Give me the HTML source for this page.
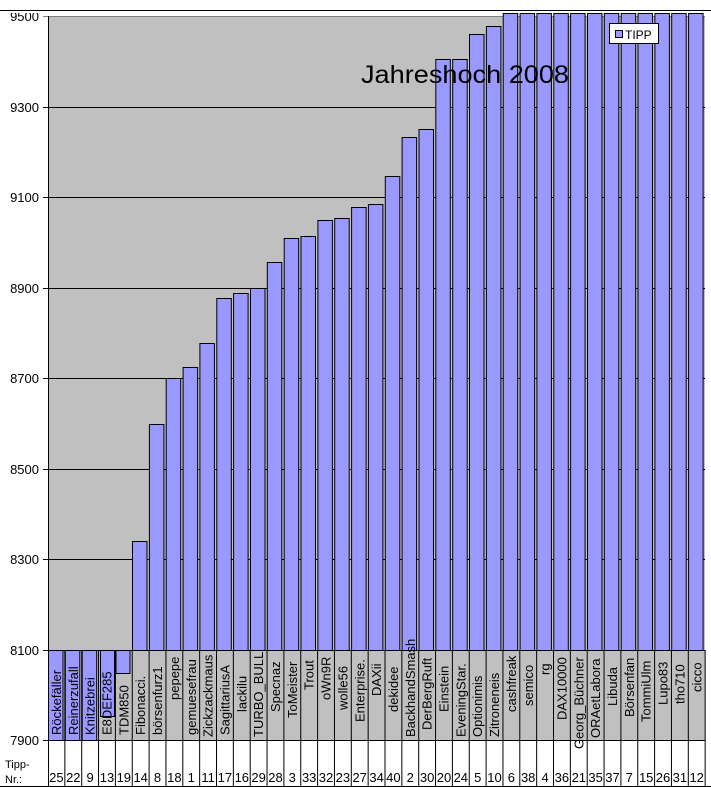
<!DOCTYPE html>
<html><head><meta charset="utf-8"><style>
html,body{margin:0;padding:0;background:#fff;}
svg{display:block;font-family:"Liberation Sans",Arial,sans-serif;}
.l{font-size:13px;fill:#000;}
.n{font-size:13px;fill:#000;text-anchor:middle;}
.y{font-size:13px;fill:#000;text-anchor:end;}
rect.b{fill:#9999ff;stroke:#000;stroke-width:1;}
</style></head><body>
<svg width="711" height="787" viewBox="0 0 711 787" xmlns="http://www.w3.org/2000/svg">
<rect x="0" y="0" width="711" height="787" fill="#fff"/>
<rect x="48" y="16" width="657" height="724" fill="#c0c0c0"/>
<g stroke="#000" stroke-width="1">
<line x1="43" y1="16.5" x2="705" y2="16.5" stroke="#808080"/>
<line x1="43" y1="107.5" x2="705" y2="107.5"/>
<line x1="43" y1="197.5" x2="705" y2="197.5"/>
<line x1="43" y1="288.5" x2="705" y2="288.5"/>
<line x1="43" y1="378.5" x2="705" y2="378.5"/>
<line x1="43" y1="469.5" x2="705" y2="469.5"/>
<line x1="43" y1="559.5" x2="705" y2="559.5"/>
<line x1="43" y1="650.5" x2="705" y2="650.5"/>
<line x1="43" y1="740.5" x2="705" y2="740.5"/>
<line x1="48.5" y1="16" x2="48.5" y2="787"/>
</g>
<g class="y">
<text class="y" x="39" y="21">9500</text>
<text class="y" x="39" y="112">9300</text>
<text class="y" x="39" y="202">9100</text>
<text class="y" x="39" y="293">8900</text>
<text class="y" x="39" y="383">8700</text>
<text class="y" x="39" y="474">8500</text>
<text class="y" x="39" y="564">8300</text>
<text class="y" x="39" y="655">8100</text>
<text class="y" x="39" y="745">7900</text>
</g>
<g>
<rect class="b" x="48.5" y="650.5" width="14.5" height="90"/>
<rect class="b" x="65.3" y="650.5" width="14.5" height="90"/>
<rect class="b" x="82.2" y="650.5" width="14.5" height="90"/>
<rect class="b" x="100.5" y="650.5" width="14" height="66"/>
<rect class="b" x="116" y="650.5" width="14" height="23"/>
<rect class="b" x="132.5" y="541.5" width="14.5" height="109"/>
<rect class="b" x="149.4" y="424.5" width="14.5" height="226"/>
<rect class="b" x="166.2" y="378.5" width="14.5" height="272"/>
<rect class="b" x="183.1" y="367.5" width="14.5" height="283"/>
<rect class="b" x="199.9" y="343.5" width="14.5" height="307"/>
<rect class="b" x="216.8" y="298.5" width="14.5" height="352"/>
<rect class="b" x="233.6" y="293.5" width="14.5" height="357"/>
<rect class="b" x="250.5" y="288.5" width="14.5" height="362"/>
<rect class="b" x="267.3" y="262.5" width="14.5" height="388"/>
<rect class="b" x="284.2" y="238.5" width="14.5" height="412"/>
<rect class="b" x="301" y="236.5" width="14.5" height="414"/>
<rect class="b" x="317.9" y="220.5" width="14.5" height="430"/>
<rect class="b" x="334.7" y="218.5" width="14.5" height="432"/>
<rect class="b" x="351.6" y="207.5" width="14.5" height="443"/>
<rect class="b" x="368.4" y="204.5" width="14.5" height="446"/>
<rect class="b" x="385.3" y="176.5" width="14.5" height="474"/>
<rect class="b" x="402.1" y="137.5" width="14.5" height="513"/>
<rect class="b" x="419" y="129.5" width="14.5" height="521"/>
<rect class="b" x="435.8" y="59.5" width="14.5" height="591"/>
<rect class="b" x="452.7" y="59.5" width="14.5" height="591"/>
<rect class="b" x="469.5" y="34.5" width="14.5" height="616"/>
<rect class="b" x="486.4" y="26.5" width="14.5" height="624"/>
<rect class="b" x="503.2" y="13.5" width="14.5" height="637"/>
<rect class="b" x="520.1" y="13.5" width="14.5" height="637"/>
<rect class="b" x="536.9" y="13.5" width="14.5" height="637"/>
<rect class="b" x="553.8" y="13.5" width="14.5" height="637"/>
<rect class="b" x="570.6" y="13.5" width="14.5" height="637"/>
<rect class="b" x="587.5" y="13.5" width="14.5" height="637"/>
<rect class="b" x="604.3" y="13.5" width="14.5" height="637"/>
<rect class="b" x="621.2" y="13.5" width="14.5" height="637"/>
<rect class="b" x="638" y="13.5" width="14.5" height="637"/>
<rect class="b" x="654.9" y="13.5" width="14.5" height="637"/>
<rect class="b" x="671.7" y="13.5" width="14.5" height="637"/>
<rect class="b" x="688.6" y="13.5" width="14.5" height="637"/>
</g>
<rect x="0" y="0" width="711" height="13" fill="#fff"/>
<line x1="0" y1="10.5" x2="711" y2="10.5" stroke="#000"/>
<rect x="706" y="11" width="5" height="639" fill="#fff"/>
<rect x="49" y="741" width="656" height="46" fill="#fff"/>
<g stroke="#000" stroke-width="1">
<line x1="64.85" y1="650" x2="64.85" y2="787"/>
<line x1="81.7" y1="650" x2="81.7" y2="787"/>
<line x1="98.55" y1="650" x2="98.55" y2="787"/>
<line x1="115.4" y1="650" x2="115.4" y2="787"/>
<line x1="132.25" y1="650" x2="132.25" y2="787"/>
<line x1="149.1" y1="650" x2="149.1" y2="787"/>
<line x1="165.95" y1="650" x2="165.95" y2="787"/>
<line x1="182.8" y1="650" x2="182.8" y2="787"/>
<line x1="199.65" y1="650" x2="199.65" y2="787"/>
<line x1="216.5" y1="650" x2="216.5" y2="787"/>
<line x1="233.35" y1="650" x2="233.35" y2="787"/>
<line x1="250.2" y1="650" x2="250.2" y2="787"/>
<line x1="267.05" y1="650" x2="267.05" y2="787"/>
<line x1="283.9" y1="650" x2="283.9" y2="787"/>
<line x1="300.75" y1="650" x2="300.75" y2="787"/>
<line x1="317.6" y1="650" x2="317.6" y2="787"/>
<line x1="334.45" y1="650" x2="334.45" y2="787"/>
<line x1="351.3" y1="650" x2="351.3" y2="787"/>
<line x1="368.15" y1="650" x2="368.15" y2="787"/>
<line x1="385" y1="650" x2="385" y2="787"/>
<line x1="401.85" y1="650" x2="401.85" y2="787"/>
<line x1="418.7" y1="650" x2="418.7" y2="787"/>
<line x1="435.55" y1="650" x2="435.55" y2="787"/>
<line x1="452.4" y1="650" x2="452.4" y2="787"/>
<line x1="469.25" y1="650" x2="469.25" y2="787"/>
<line x1="486.1" y1="650" x2="486.1" y2="787"/>
<line x1="502.95" y1="650" x2="502.95" y2="787"/>
<line x1="519.8" y1="650" x2="519.8" y2="787"/>
<line x1="536.65" y1="650" x2="536.65" y2="787"/>
<line x1="553.5" y1="650" x2="553.5" y2="787"/>
<line x1="570.35" y1="650" x2="570.35" y2="787"/>
<line x1="587.2" y1="650" x2="587.2" y2="787"/>
<line x1="604.05" y1="650" x2="604.05" y2="787"/>
<line x1="620.9" y1="650" x2="620.9" y2="787"/>
<line x1="637.75" y1="650" x2="637.75" y2="787"/>
<line x1="654.6" y1="650" x2="654.6" y2="787"/>
<line x1="671.45" y1="650" x2="671.45" y2="787"/>
<line x1="688.3" y1="650" x2="688.3" y2="787"/>
<line x1="705.15" y1="650" x2="705.15" y2="787"/>
<line x1="0" y1="786.5" x2="711" y2="786.5"/>
</g>
<g class="l">
<text class="l" transform="translate(61,735) rotate(-90)">Röckefäller</text>
<text class="l" transform="translate(77.8,735) rotate(-90)">Reinerzufall</text>
<text class="l" transform="translate(94.7,735) rotate(-90)">Knitzebrei</text>
<text class="l" transform="translate(111.5,735) rotate(-90)">E8DEF285</text>
<text class="l" transform="translate(128.4,735) rotate(-90)">TDM850</text>
<text class="l" transform="translate(145.2,735) rotate(-90)">Fibonacci.</text>
<text class="l" transform="translate(162.1,735) rotate(-90)">börsenfurz1</text>
<text class="l" transform="translate(178.9,700) rotate(-90)">pepepe</text>
<text class="l" transform="translate(195.8,735) rotate(-90)">gemuesefrau</text>
<text class="l" transform="translate(212.6,737) rotate(-90)">Zickzackmaus</text>
<text class="l" transform="translate(229.5,735) rotate(-90)">SagittariusA</text>
<text class="l" transform="translate(246.3,712) rotate(-90)">lackilu</text>
<text class="l" transform="translate(263.2,737) rotate(-90)">TURBO_BULL</text>
<text class="l" transform="translate(280,712) rotate(-90)">Specnaz</text>
<text class="l" transform="translate(296.9,718) rotate(-90)">ToMeister</text>
<text class="l" transform="translate(313.7,690) rotate(-90)">Trout</text>
<text class="l" transform="translate(330.6,700) rotate(-90)">oWn9R</text>
<text class="l" transform="translate(347.4,710) rotate(-90)">wolle56</text>
<text class="l" transform="translate(364.3,722) rotate(-90)">Enterprise.</text>
<text class="l" transform="translate(381.1,696) rotate(-90)">DAXii</text>
<text class="l" transform="translate(398,712) rotate(-90)">dekidee</text>
<text class="l" transform="translate(414.8,737) rotate(-90)">BackhandSmash</text>
<text class="l" transform="translate(431.7,730) rotate(-90)">DerBergRuft</text>
<text class="l" transform="translate(448.5,712) rotate(-90)">Einstein</text>
<text class="l" transform="translate(465.4,737) rotate(-90)">EveningStar.</text>
<text class="l" transform="translate(482.2,737) rotate(-90)">Optionimis</text>
<text class="l" transform="translate(499.1,737) rotate(-90)">Zitroneneis</text>
<text class="l" transform="translate(515.9,712) rotate(-90)">cashfreak</text>
<text class="l" transform="translate(532.8,706) rotate(-90)">semico</text>
<text class="l" transform="translate(549.6,675) rotate(-90)">rg</text>
<text class="l" transform="translate(566.5,720) rotate(-90)">DAX10000</text>
<text class="l" transform="translate(583.3,749) rotate(-90)">Georg_Büchner</text>
<text class="l" transform="translate(600.2,738) rotate(-90)">ORAetLabora</text>
<text class="l" transform="translate(617,706) rotate(-90)">Libuda</text>
<text class="l" transform="translate(633.9,717) rotate(-90)">Börsenfan</text>
<text class="l" transform="translate(650.7,722) rotate(-90)">TommiUlm</text>
<text class="l" transform="translate(667.6,705) rotate(-90)">Lupo83</text>
<text class="l" transform="translate(684.4,704) rotate(-90)">tho710</text>
<text class="l" transform="translate(701.3,692) rotate(-90)">cicco</text>
</g>
<text x="5" y="768" style="font-size:11px">Tipp-</text>
<text x="5" y="783" style="font-size:11px">Nr.:</text>
<g class="n">
<text class="n" x="56.4" y="782">25</text>
<text class="n" x="73.3" y="782">22</text>
<text class="n" x="90.1" y="782">9</text>
<text class="n" x="107" y="782">13</text>
<text class="n" x="123.8" y="782">19</text>
<text class="n" x="140.7" y="782">14</text>
<text class="n" x="157.5" y="782">8</text>
<text class="n" x="174.4" y="782">18</text>
<text class="n" x="191.2" y="782">1</text>
<text class="n" x="208.1" y="782">11</text>
<text class="n" x="224.9" y="782">17</text>
<text class="n" x="241.8" y="782">16</text>
<text class="n" x="258.6" y="782">29</text>
<text class="n" x="275.5" y="782">28</text>
<text class="n" x="292.3" y="782">3</text>
<text class="n" x="309.2" y="782">33</text>
<text class="n" x="326" y="782">32</text>
<text class="n" x="342.9" y="782">23</text>
<text class="n" x="359.7" y="782">27</text>
<text class="n" x="376.6" y="782">34</text>
<text class="n" x="393.4" y="782">40</text>
<text class="n" x="410.3" y="782">2</text>
<text class="n" x="427.1" y="782">30</text>
<text class="n" x="444" y="782">20</text>
<text class="n" x="460.8" y="782">24</text>
<text class="n" x="477.7" y="782">5</text>
<text class="n" x="494.5" y="782">10</text>
<text class="n" x="511.4" y="782">6</text>
<text class="n" x="528.2" y="782">38</text>
<text class="n" x="545.1" y="782">4</text>
<text class="n" x="561.9" y="782">36</text>
<text class="n" x="578.8" y="782">21</text>
<text class="n" x="595.6" y="782">35</text>
<text class="n" x="612.5" y="782">37</text>
<text class="n" x="629.3" y="782">7</text>
<text class="n" x="646.2" y="782">15</text>
<text class="n" x="663" y="782">26</text>
<text class="n" x="679.9" y="782">31</text>
<text class="n" x="696.7" y="782">12</text>
</g>
<text x="361" y="83" style="font-size:25px" textLength="208" lengthAdjust="spacingAndGlyphs">Jahreshoch 2008</text>
<rect x="609.5" y="23.5" width="49" height="20" fill="#fff" stroke="#000"/>
<rect x="615.5" y="30.5" width="7" height="7" fill="#9999ff" stroke="#000"/>
<text x="625" y="39" style="font-size:12px">TIPP</text>
</svg>
</body></html>
